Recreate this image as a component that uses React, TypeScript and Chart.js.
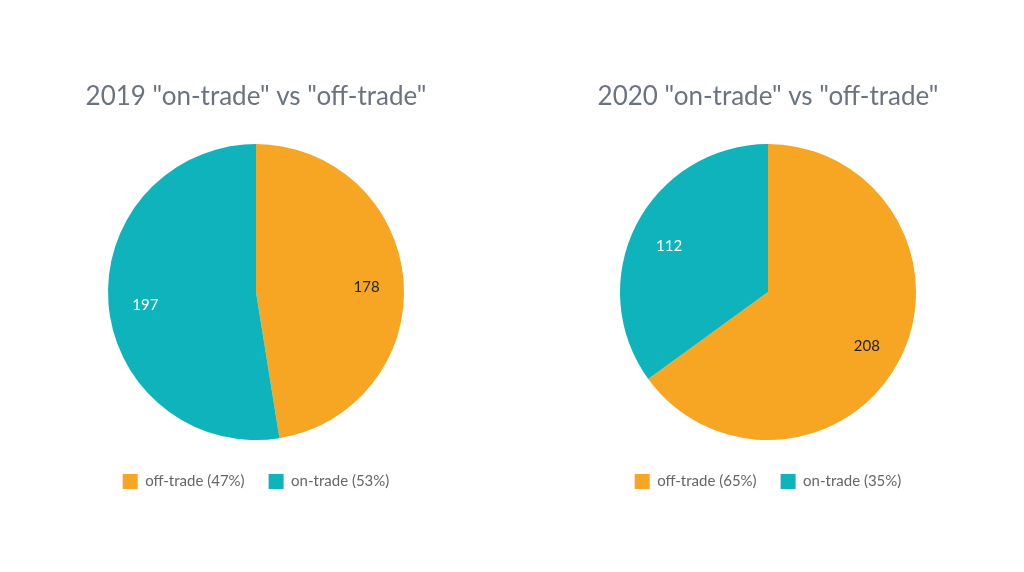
import React, { useEffect, useRef } from "react";
import { Chart, registerables } from "chart.js";

Chart.register(...registerables);

const categories = ["off-trade", "on-trade"];
const values2019 = [178, 197];
const values2020 = [208, 112];
const titles = ['2019 "on-trade" vs "off-trade"', '2020 "on-trade" vs "off-trade"'];
const colors = ["#F6A623", "#0FB3BB"];
const labelColors = ["#222222", "#ffffff"];

const FONT = "Lato, 'Noto Sans', sans-serif";

const sliceLabels = {
  id: "sliceLabels",
  afterDatasetsDraw(chart: any) {
    const { ctx } = chart;
    const meta = chart.getDatasetMeta(0);
    const data = chart.data.datasets[0].data as number[];
    ctx.save();
    ctx.font = `15px ${FONT}`;
    ctx.textAlign = "center";
    ctx.textBaseline = "middle";
    meta.data.forEach((arc: any, i: number) => {
      const { x, y, startAngle, endAngle, outerRadius } = arc.getProps(
        ["x", "y", "startAngle", "endAngle", "outerRadius"],
        true
      );
      const mid = (startAngle + endAngle) / 2;
      const r = outerRadius * 0.75;
      ctx.fillStyle = labelColors[i];
      ctx.fillText(String(data[i]), x + Math.cos(mid) * r, y + Math.sin(mid) * r + 4);
    });
    ctx.restore();
  },
};

function PieChart({ values, title }: { values: number[]; title: string }) {
  const ref = useRef<HTMLCanvasElement | null>(null);
  useEffect(() => {
    if (!ref.current) return;
    const total = values.reduce((a, b) => a + b, 0);
    const labels = categories.map(
      (c, i) => `${c} (${Math.round((values[i] / total) * 100)}%)`
    );
    const chart = new Chart(ref.current, {
      type: "pie",
      data: {
        labels,
        datasets: [
          {
            data: values,
            backgroundColor: colors,
            borderWidth: 0,
          },
        ],
      },
      options: {
        animation: false,
        responsive: false,
        radius: 148,
        layout: { padding: { top: 81, bottom: 73, left: 0, right: 0 } },
        plugins: {
          title: {
            display: true,
            text: title,
            color: "#6B747E",
            font: { family: FONT, size: 26, weight: "normal" },
            padding: { top: 0, bottom: 22 },
          },
          legend: {
            position: "bottom",
            labels: {
              color: "#666666",
              font: { family: FONT, size: 15 },
              boxWidth: 15,
              boxHeight: 15,
              padding: 24,
            },
          },
          tooltip: { enabled: false },
        },
      } as any,
      plugins: [sliceLabels],
    });
    return () => chart.destroy();
  }, [values, title]);
  return <canvas ref={ref} width={512} height={572} style={{ display: "block" }} />;
}

export default function App() {
  return (
    <div
      style={{
        position: "absolute",
        left: 0,
        top: 0,
        width: 1024,
        height: 572,
        display: "flex",
        background: "#ffffff",
      }}
    >
      <PieChart values={values2019} title={titles[0]} />
      <PieChart values={values2020} title={titles[1]} />
    </div>
  );
}
